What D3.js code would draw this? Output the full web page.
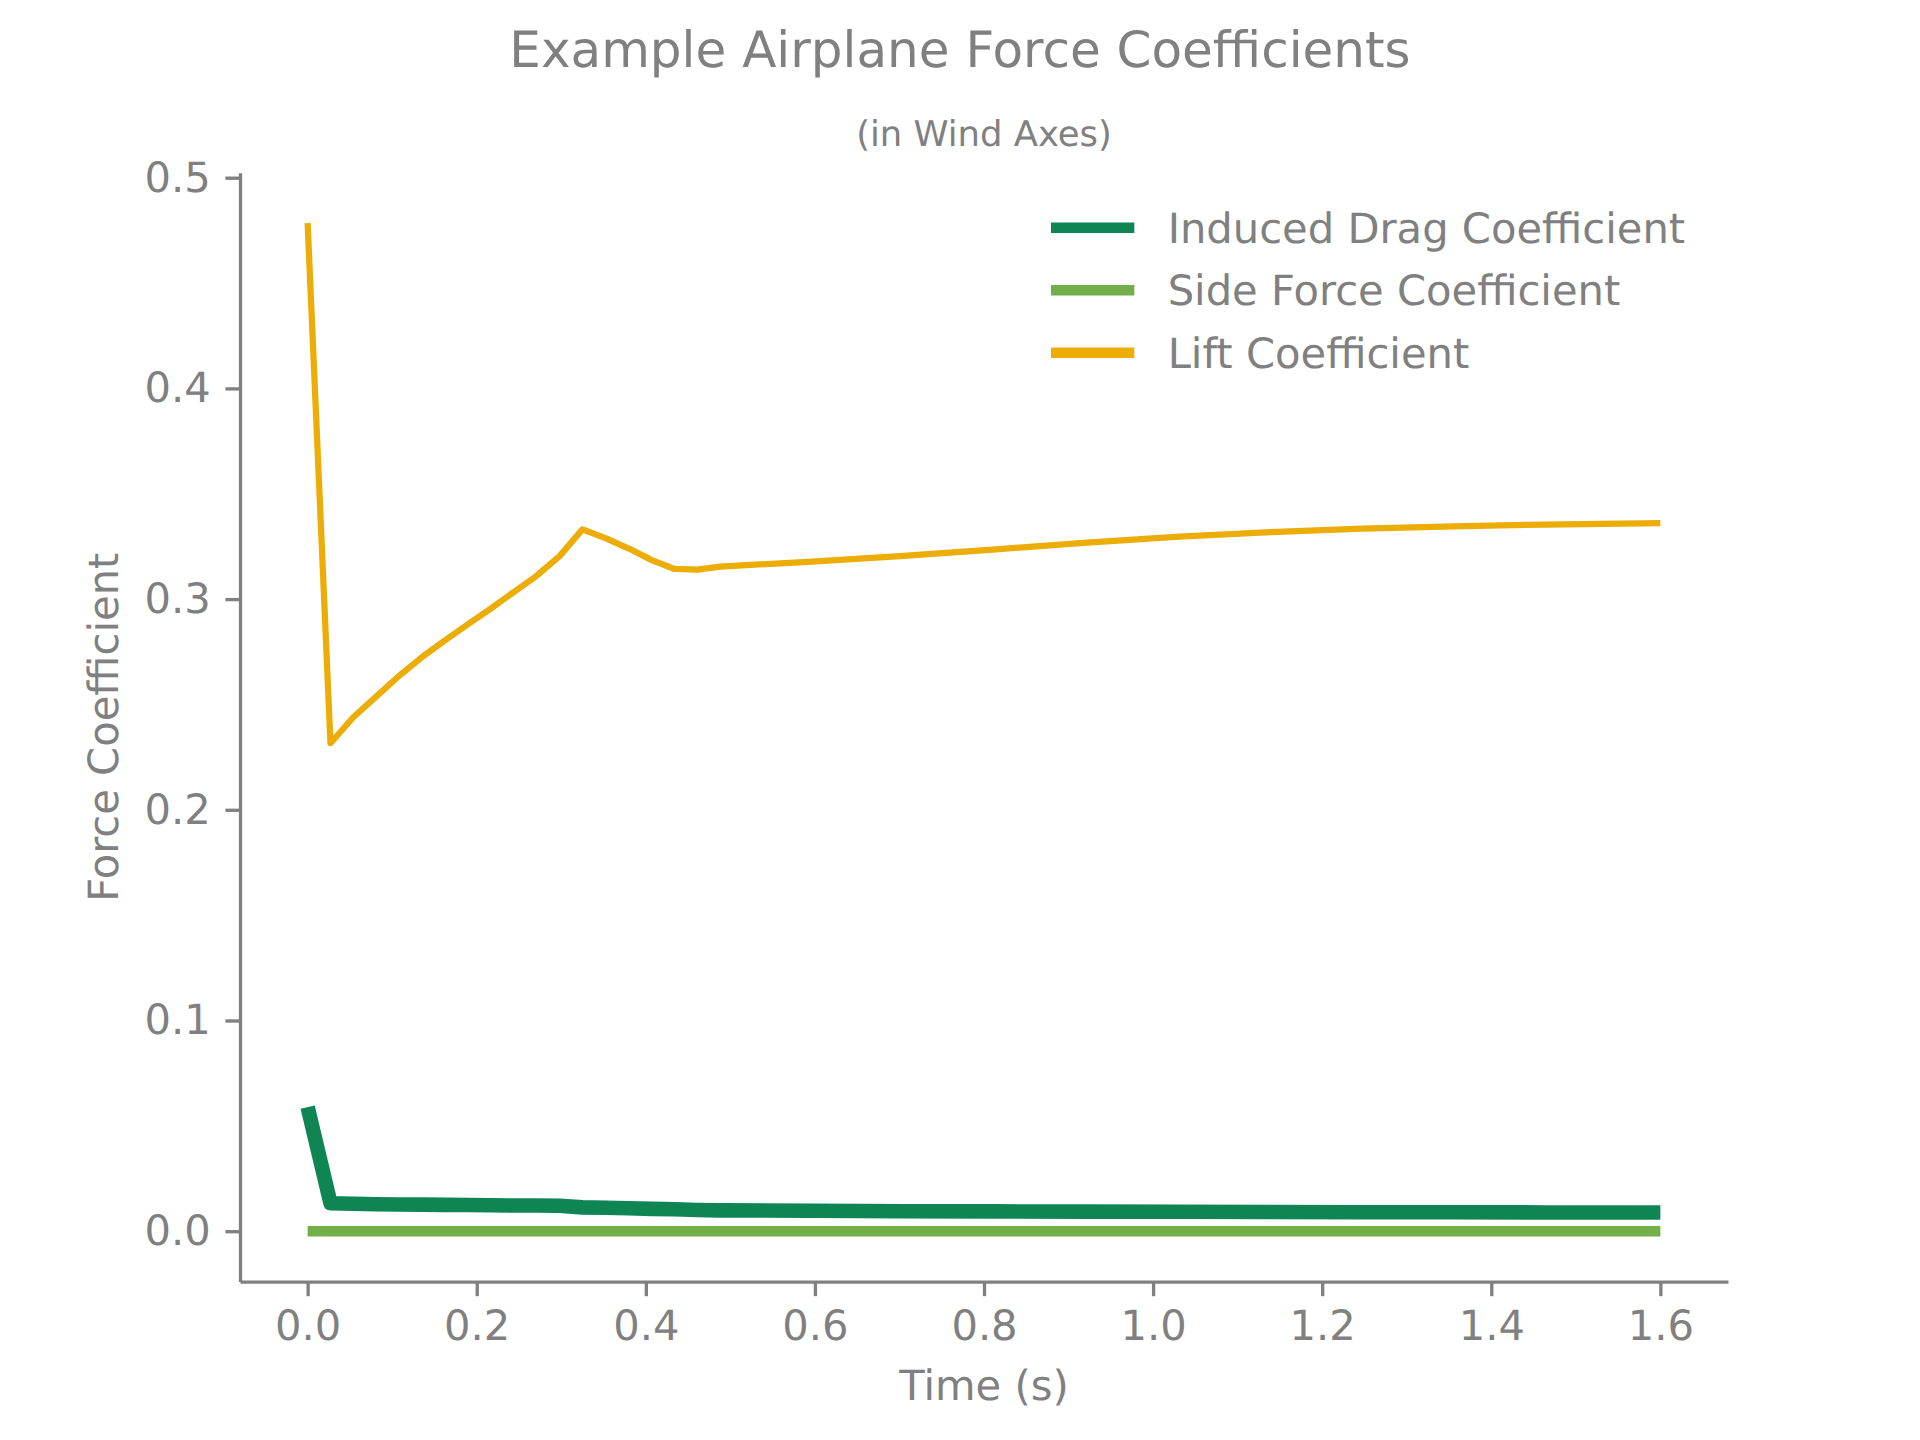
<!DOCTYPE html>
<html>
<head>
<meta charset="utf-8">
<script src="https://cdn.jsdelivr.net/npm/d3@7"></script>
<style>
  body { margin: 0; background: #ffffff; }
  svg { text-rendering: geometricPrecision; }
  text { font-family: "DejaVu Sans", sans-serif; fill: #808080; }
</style>
</head>
<body>
<div id="chart-area"></div>
<script>
// Simulation time (s)
const timeSteps = [
  0, 0.027, 0.054, 0.081, 0.108, 0.136, 0.163, 0.190, 0.217, 0.244,
  0.271, 0.298, 0.325, 0.353, 0.380, 0.407, 0.434, 0.461, 0.488,
  0.597, 0.705, 0.814, 0.922, 1.031, 1.139, 1.247, 1.356, 1.464, 1.6
];

// Force coefficients
const inducedDrag = [
  0.0589, 0.0133, 0.0130, 0.0128, 0.0127, 0.0126, 0.0125, 0.0124, 0.0123, 0.0122,
  0.0122, 0.0121, 0.0113, 0.0111, 0.0109, 0.0106, 0.0104, 0.0101, 0.0099,
  0.0097, 0.0095, 0.0094, 0.0093, 0.0092, 0.0091, 0.0090, 0.0090, 0.0089, 0.0089
];
const sideForce = [
  0, 0, 0, 0, 0, 0, 0, 0, 0, 0,
  0, 0, 0, 0, 0, 0, 0, 0, 0,
  0, 0, 0, 0, 0, 0, 0, 0, 0, 0
];
const liftCoef = [
  0.4784, 0.2316, 0.2439, 0.2537, 0.2635, 0.2727, 0.2806, 0.2882, 0.2956, 0.3034,
  0.3111, 0.3204, 0.3331, 0.3288, 0.3240, 0.3185, 0.3143, 0.3140, 0.3154,
  0.3178, 0.3205, 0.3236, 0.3268, 0.3297, 0.3318, 0.3334, 0.3345, 0.3354, 0.3361
];

const seriesNames = ["Induced Drag Coefficient", "Side Force Coefficient", "Lift Coefficient"];
const seriesColors = ["#0F8554", "#73AF48", "#EDAD08"];
const xTickValues = [0, 0.2, 0.4, 0.6, 0.8, 1.0, 1.2, 1.4, 1.6];
const yTickValues = [0, 0.1, 0.2, 0.3, 0.4, 0.5];

(function () {
  const width = 1920;
  const height = 1440;
  const pt = 300 / 72; // px per point (figure drawn at 300 dpi)

  // axes box, matplotlib default subplot params
  const box = { left: 240, right: 1728, top: 172.8, bottom: 1281.6 };
  const grey = "#808080";

  const svg = d3
    .select("#chart-area")
    .append("svg")
    .attr("width", width)
    .attr("height", height);

  const series = [inducedDrag, sideForce, liftCoef].map((vals, i) => ({
    name: seriesNames[i],
    color: seriesColors[i],
    width: [3.5, 2.5, 1.5][i] * pt,
    values: vals.map((v, j) => ({ t: timeSteps[j], v: v })),
  }));

  // 5% autoscale margins like matplotlib
  const tExt = d3.extent(timeSteps);
  const allVals = inducedDrag.concat(sideForce, liftCoef);
  const vExt = d3.extent(allVals);
  const tPad = (tExt[1] - tExt[0]) * 0.05;
  const vPad = (vExt[1] - vExt[0]) * 0.05;

  const xScale = d3
    .scaleLinear()
    .domain([tExt[0] - tPad, tExt[1] + tPad])
    .range([box.left, box.right]);
  const yScale = d3
    .scaleLinear()
    .domain([vExt[0] - vPad, vExt[1] + vPad])
    .range([box.bottom, box.top]);

  const fontSize = 10 * pt;
  const tickLen = 3.5 * pt;

  // Axes
  const xAxis = svg
    .append("g")
    .attr("transform", `translate(0,${box.bottom})`)
    .call(
      d3
        .axisBottom(xScale)
        .tickValues(xTickValues)
        .tickFormat(d3.format(".1f"))
        .tickSize(tickLen)
        .tickSizeOuter(0)
        .tickPadding(tickLen)
    );
  const yAxis = svg
    .append("g")
    .attr("transform", `translate(${box.left},0)`)
    .call(
      d3
        .axisLeft(yScale)
        .tickValues(yTickValues)
        .tickFormat(d3.format(".1f"))
        .tickSize(tickLen)
        .tickSizeOuter(0)
        .tickPadding(tickLen)
    );

  [xAxis, yAxis].forEach((ax) => {
    ax.select(".domain").attr("stroke", grey).attr("stroke-width", 0.8 * pt);
    ax.selectAll(".tick line").attr("stroke", grey).attr("stroke-width", 0.8 * pt);
    ax.selectAll(".tick text")
      .attr("fill", grey)
      .style("font-size", fontSize + "px")
      .style("font-family", '"DejaVu Sans", sans-serif');
  });

  // Lines
  const line = d3
    .line()
    .x((d) => xScale(d.t))
    .y((d) => yScale(d.v));

  svg
    .append("g")
    .selectAll("path")
    .data(series)
    .enter()
    .append("path")
    .attr("d", (d) => line(d.values))
    .attr("fill", "none")
    .attr("stroke", (d) => d.color)
    .attr("stroke-width", (d) => d.width)
    .attr("stroke-linejoin", "round")
    .attr("stroke-linecap", "butt");

  // Titles
  svg
    .append("text")
    .attr("x", width / 2)
    .attr("y", 66.7)
    .attr("text-anchor", "middle")
    .style("font-size", 12 * pt + "px")
    .text("Example Airplane Force Coefficients");

  svg
    .append("text")
    .attr("x", (box.left + box.right) / 2)
    .attr("y", 146)
    .attr("text-anchor", "middle")
    .style("font-size", 8.5 * pt + "px")
    .text("(in Wind Axes)");

  // Axis labels
  svg
    .append("text")
    .attr("x", (box.left + box.right) / 2)
    .attr("y", 1400)
    .attr("text-anchor", "middle")
    .style("font-size", fontSize + "px")
    .text("Time (s)");

  svg
    .append("text")
    .attr("transform", `translate(118,${(box.top + box.bottom) / 2}) rotate(-90)`)
    .attr("text-anchor", "middle")
    .style("font-size", fontSize + "px")
    .text("Force Coefficient");

  // Legend (no frame)
  const legend = svg
    .append("g")
    .selectAll("g")
    .data(series)
    .enter()
    .append("g")
    .attr("transform", (d, i) => `translate(1051,${227.7 + i * 62.5})`);

  legend
    .append("line")
    .attr("x1", 0)
    .attr("x2", 2 * fontSize)
    .attr("stroke", (d) => d.color)
    .attr("stroke-width", 2.5 * pt);

  legend
    .append("text")
    .attr("x", 2.8 * fontSize)
    .attr("dy", "0.36em")
    .style("font-size", fontSize + "px")
    .text((d) => d.name);
})();
</script>
</body>
</html>
